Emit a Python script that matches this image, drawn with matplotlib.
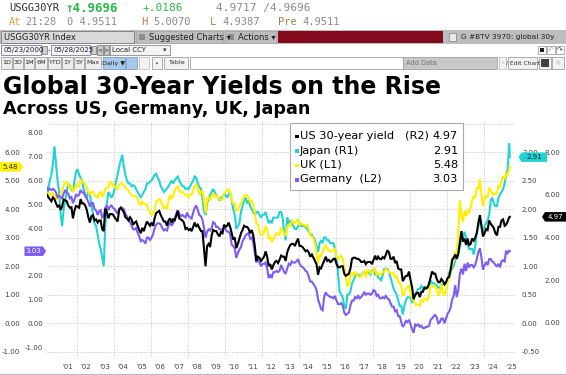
import matplotlib
matplotlib.use("Agg")
import matplotlib.pyplot as plt
from matplotlib.patches import Rectangle, Polygon
from matplotlib.lines import Line2D
from matplotlib.ticker import FixedLocator, FuncFormatter, NullFormatter
import pandas as pd
import numpy as np

# ---------------- DATA (monthly readings, May-2000 .. May-2025, plus last close) -------------
us_30y = [
    6.00, 5.90, 5.80, 5.70, 5.88, 5.80, 5.60, 5.45,
    5.50, 5.30, 5.45, 5.78, 5.75, 5.70, 5.50, 5.40, 5.42, 4.90, 5.28, 5.48,
    5.45, 5.40, 5.80, 5.60, 5.60, 5.50, 5.30, 4.95, 4.70, 5.00, 5.05, 4.80,
    4.85, 4.70, 4.80, 4.80, 4.40, 4.30, 5.35, 5.20, 4.90, 5.10, 5.10, 5.08,
    4.95, 4.85, 4.75, 5.30, 5.40, 5.30, 5.20, 4.95, 4.90, 4.80, 4.95, 4.85,
    4.60, 4.70, 4.75, 4.55, 4.35, 4.20, 4.45, 4.30, 4.55, 4.75, 4.65, 4.55,
    4.70, 4.55, 4.90, 5.15, 5.20, 5.25, 5.05, 4.90, 4.75, 4.75, 4.55, 4.80,
    4.90, 4.70, 4.85, 4.80, 5.00, 5.25, 4.90, 4.85, 4.80, 4.70, 4.40, 4.45,
    4.35, 4.40, 4.30, 4.50, 4.70, 4.50, 4.60, 4.45, 4.30, 4.30, 3.45, 2.65,
    3.60, 3.70, 3.55, 4.10, 4.35, 4.30, 4.30, 4.15, 4.05, 4.25, 4.20, 4.60,
    4.50, 4.55, 4.70, 4.50, 4.20, 3.90, 4.00, 3.50, 3.70, 3.95, 4.20, 4.35,
    4.55, 4.50, 4.50, 4.40, 4.20, 4.35, 4.10, 3.60, 2.90, 3.10, 3.05, 2.90,
    3.00, 3.10, 3.35, 3.10, 2.65, 2.75, 2.50, 2.70, 2.85, 2.90, 2.80, 2.95,
    3.15, 3.10, 3.10, 2.90, 3.30, 3.50, 3.65, 3.70, 3.70, 3.60, 3.80, 3.95,
    3.60, 3.60, 3.55, 3.45, 3.35, 3.40, 3.30, 3.10, 3.20, 3.05, 2.90, 2.75,
    2.25, 2.60, 2.55, 2.75, 2.90, 3.10, 2.90, 2.95, 2.85, 2.90, 3.00, 3.00,
    2.75, 2.60, 2.60, 2.65, 2.65, 2.30, 2.20, 2.25, 2.30, 2.55, 3.00, 3.05,
    3.05, 3.00, 3.00, 2.95, 2.85, 2.85, 2.90, 2.75, 2.85, 2.85, 2.85, 2.75,
    2.95, 3.15, 2.95, 3.10, 3.00, 2.98, 3.08, 3.02, 3.20, 3.40, 3.30, 3.00,
    3.00, 3.10, 2.80, 2.90, 2.55, 2.50, 2.50, 1.95, 2.10, 2.20, 2.20, 2.40,
    2.00, 1.65, 1.10, 1.30, 1.40, 1.40, 1.20, 1.45, 1.45, 1.65, 1.60, 1.65,
    1.85, 2.15, 2.40, 2.30, 2.30, 2.05, 1.90, 1.90, 2.05, 1.95, 1.80, 1.90,
    2.10, 2.15, 2.45, 2.95, 3.05, 3.20, 3.00, 3.25, 3.80, 4.30, 3.80, 3.95,
    3.65, 3.95, 3.65, 3.70, 3.95, 3.85, 4.00, 4.20, 4.70, 5.05, 4.55, 4.05,
    4.20, 4.40, 4.35, 4.80, 4.65, 4.55, 4.45, 4.20, 4.10, 4.50, 4.50, 4.80,
    4.85, 4.55, 4.60, 4.75, 4.95,
    4.97,
]

japan_30y = [
    2.25, 2.35, 2.50, 2.60, 2.80, 3.10, 2.80, 2.50,
    2.30, 1.90, 1.70, 2.00, 2.15, 2.30, 2.45, 2.40, 2.35, 2.30, 2.50, 2.65,
    2.70, 2.60, 2.55, 2.50, 2.35, 2.25, 2.20, 2.30, 2.25, 2.10, 1.90, 1.75,
    1.70, 1.55, 1.40, 1.30, 1.15, 1.00, 1.70, 2.10, 2.30, 2.25, 2.20, 2.25,
    2.35, 2.50, 2.60, 2.75, 2.85, 2.95, 2.75, 2.60, 2.50, 2.45, 2.45, 2.40,
    2.42, 2.40, 2.35, 2.30, 2.25, 2.20, 2.25, 2.30, 2.35, 2.45, 2.45, 2.48,
    2.50, 2.55, 2.60, 2.62, 2.55, 2.50, 2.40, 2.35, 2.30, 2.33, 2.36, 2.40,
    2.45, 2.50, 2.45, 2.50, 2.54, 2.57, 2.50, 2.45, 2.40, 2.40, 2.35, 2.36,
    2.35, 2.40, 2.45, 2.50, 2.57, 2.55, 2.45, 2.38, 2.36, 2.20, 1.95, 1.90,
    2.10, 2.20, 2.25, 2.30, 2.35, 2.30, 2.25, 2.20, 2.15, 2.20, 2.20, 2.25,
    2.25, 2.20, 2.25, 2.30, 2.15, 2.00, 1.90, 1.65, 1.70, 1.75, 1.95, 2.05,
    2.15, 2.20, 2.10, 2.15, 2.05, 2.00, 1.95, 1.90, 1.95, 1.95, 1.90, 1.85,
    1.90, 1.90, 1.95, 1.85, 1.75, 1.80, 1.75, 1.85, 1.85, 1.85, 1.85, 1.95,
    1.95, 1.85, 1.60, 1.45, 1.85, 1.75, 1.80, 1.75, 1.70, 1.65, 1.65, 1.70,
    1.75, 1.70, 1.70, 1.70, 1.68, 1.65, 1.60, 1.55, 1.55, 1.50, 1.45, 1.35,
    1.25, 1.40, 1.45, 1.40, 1.50, 1.50, 1.45, 1.45, 1.40, 1.40, 1.40, 1.30,
    1.15, 0.85, 0.55, 0.50, 0.45, 0.30, 0.25, 0.50, 0.50, 0.55, 0.70, 0.75,
    0.82, 0.85, 0.85, 0.82, 0.84, 0.88, 0.90, 0.86, 0.88, 0.88, 0.85, 0.90,
    0.95, 0.85, 0.85, 0.80, 0.78, 0.75, 0.85, 0.95, 0.95, 0.95, 0.90, 0.80,
    0.70, 0.60, 0.55, 0.50, 0.40, 0.30, 0.30, 0.15, 0.30, 0.40, 0.45, 0.45,
    0.45, 0.35, 0.50, 0.50, 0.55, 0.60, 0.60, 0.65, 0.60, 0.62, 0.63, 0.63,
    0.65, 0.75, 0.70, 0.70, 0.68, 0.66, 0.62, 0.62, 0.67, 0.68, 0.68, 0.70,
    0.75, 0.88, 0.95, 0.95, 1.00, 1.10, 1.15, 1.20, 1.35, 1.45, 1.50, 1.60,
    1.50, 1.40, 1.30, 1.30, 1.30, 1.20, 1.35, 1.60, 1.70, 1.80, 1.70, 1.55,
    1.70, 1.75, 1.80, 1.90, 2.15, 2.20, 2.10, 2.05, 2.05, 2.20, 2.25, 2.30,
    2.35, 2.45, 2.60, 2.70, 3.15,
    2.91,
]

uk_30y = [
    4.55, 4.50, 4.55, 4.50, 4.55, 4.50, 4.40, 4.35,
    4.40, 4.50, 4.65, 4.80, 4.95, 4.95, 4.85, 4.75, 4.80, 4.60, 4.70, 4.85,
    4.80, 4.80, 5.05, 4.95, 4.95, 4.85, 4.75, 4.60, 4.50, 4.60, 4.60, 4.50,
    4.45, 4.40, 4.55, 4.60, 4.45, 4.50, 4.70, 4.75, 4.75, 4.95, 4.95, 4.80,
    4.80, 4.75, 4.70, 4.85, 4.90, 4.90, 4.85, 4.75, 4.70, 4.65, 4.55, 4.50,
    4.45, 4.45, 4.45, 4.35, 4.20, 4.15, 4.25, 4.20, 4.15, 4.15, 4.00, 3.85,
    3.80, 3.85, 4.00, 4.25, 4.30, 4.35, 4.30, 4.15, 4.00, 4.10, 4.00, 4.30,
    4.50, 4.35, 4.45, 4.65, 4.75, 4.80, 4.65, 4.60, 4.60, 4.55, 4.50, 4.50,
    4.40, 4.50, 4.50, 4.65, 4.80, 4.85, 4.75, 4.50, 4.60, 4.65, 4.30, 3.85,
    4.35, 4.40, 4.30, 4.45, 4.55, 4.40, 4.50, 4.40, 4.35, 4.30, 4.35, 4.55,
    4.60, 4.65, 4.70, 4.60, 4.30, 4.20, 4.20, 3.95, 3.95, 4.10, 4.20, 4.30,
    4.45, 4.50, 4.50, 4.40, 4.25, 4.30, 4.10, 3.85, 3.50, 3.45, 3.20, 3.10,
    3.10, 3.20, 3.40, 3.30, 2.95, 3.05, 2.85, 2.95, 3.05, 3.15, 3.10, 3.10,
    3.35, 3.25, 3.15, 3.05, 3.35, 3.45, 3.40, 3.60, 3.55, 3.50, 3.55, 3.65,
    3.45, 3.50, 3.45, 3.45, 3.40, 3.45, 3.30, 3.05, 3.05, 2.95, 2.80, 2.45,
    2.10, 2.40, 2.35, 2.50, 2.60, 2.75, 2.60, 2.55, 2.50, 2.55, 2.55, 2.60,
    2.35, 2.25, 2.30, 2.35, 2.25, 1.95, 1.60, 1.30, 1.35, 1.75, 1.75, 1.65,
    1.80, 1.70, 1.65, 1.60, 1.65, 1.75, 1.80, 1.60, 1.85, 1.85, 1.75, 1.75,
    1.85, 1.90, 1.70, 1.75, 1.70, 1.70, 1.80, 1.80, 1.90, 1.85, 1.80, 1.75,
    1.75, 1.75, 1.60, 1.65, 1.45, 1.40, 1.30, 0.95, 1.05, 1.20, 1.25, 1.30,
    1.05, 0.85, 0.80, 0.65, 0.65, 0.65, 0.60, 0.80, 0.75, 0.85, 0.85, 0.80,
    0.95, 1.30, 1.30, 1.30, 1.30, 1.20, 0.95, 1.05, 1.35, 1.10, 0.95, 1.10,
    1.40, 1.60, 1.75, 2.05, 2.20, 2.50, 2.35, 3.20, 4.30, 3.75, 3.55, 3.95,
    3.75, 3.95, 3.85, 4.05, 4.30, 4.45, 4.40, 4.75, 4.70, 5.05, 4.50, 4.10,
    4.35, 4.45, 4.40, 4.75, 4.65, 4.55, 4.50, 4.55, 4.55, 4.85, 4.75, 5.00,
    5.15, 5.05, 5.25, 5.20, 5.40,
    5.48,
]

germany_30y = [
    5.70, 5.60, 5.65, 5.60, 5.65, 5.60, 5.50, 5.30,
    5.35, 5.30, 5.25, 5.45, 5.60, 5.50, 5.45, 5.25, 5.30, 5.05, 5.20, 5.40,
    5.35, 5.40, 5.60, 5.50, 5.50, 5.35, 5.25, 5.10, 4.90, 5.05, 5.05, 4.80,
    4.75, 4.55, 4.70, 4.75, 4.45, 4.50, 4.85, 4.95, 4.75, 4.90, 4.95, 4.85,
    4.80, 4.70, 4.60, 4.80, 4.85, 4.85, 4.80, 4.60, 4.50, 4.35, 4.25, 4.10,
    3.95, 3.95, 4.00, 3.80, 3.65, 3.45, 3.50, 3.45, 3.35, 3.60, 3.60, 3.50,
    3.60, 3.75, 4.00, 4.15, 4.20, 4.20, 4.15, 4.00, 3.90, 3.95, 3.90, 4.10,
    4.25, 4.10, 4.20, 4.40, 4.60, 4.75, 4.60, 4.50, 4.55, 4.50, 4.45, 4.65,
    4.50, 4.45, 4.40, 4.65, 4.85, 4.95, 4.75, 4.55, 4.50, 4.35, 4.00, 3.60,
    3.85, 3.95, 3.90, 4.00, 4.25, 4.20, 4.05, 4.05, 3.95, 3.95, 3.85, 4.00,
    3.95, 3.85, 3.85, 3.75, 3.30, 3.25, 3.15, 2.75, 2.95, 3.10, 3.20, 3.45,
    3.55, 3.70, 3.75, 3.80, 3.55, 3.60, 3.40, 2.95, 2.55, 2.75, 2.55, 2.40,
    2.50, 2.50, 2.55, 2.30, 1.90, 2.05, 1.90, 2.15, 2.15, 2.20, 2.15, 2.20,
    2.45, 2.30, 2.15, 2.10, 2.30, 2.50, 2.45, 2.60, 2.55, 2.55, 2.60, 2.70,
    2.50, 2.40, 2.35, 2.30, 2.20, 2.15, 1.95, 1.75, 1.75, 1.65, 1.55, 1.40,
    1.00, 0.80, 0.60, 0.55, 1.10, 1.30, 1.20, 1.15, 1.10, 1.10, 1.05, 1.15,
    0.95, 0.80, 0.80, 0.85, 0.75, 0.45, 0.35, 0.40, 0.45, 0.75, 0.95, 0.95,
    1.10, 1.05, 1.15, 1.05, 1.10, 1.20, 1.30, 1.20, 1.25, 1.25, 1.20, 1.25,
    1.40, 1.35, 1.15, 1.20, 1.05, 1.05, 1.10, 1.05, 1.15, 1.05, 1.00, 0.85,
    0.70, 0.70, 0.50, 0.55, 0.30, 0.30, 0.05, -0.15, -0.05, 0.10, 0.05, 0.15,
    -0.05, -0.25, -0.40, -0.05, -0.10, -0.05, -0.15, -0.10, -0.20, -0.20, -0.15, -0.15,
    -0.10, 0.15, 0.20, 0.30, 0.35, 0.25, 0.00, 0.05, 0.20, 0.20, 0.00, 0.20,
    0.40, 0.50, 0.65, 1.00, 1.15, 1.60, 1.10, 1.40, 2.10, 2.30, 2.05, 2.50,
    2.20, 2.55, 2.35, 2.45, 2.45, 2.35, 2.45, 2.70, 3.00, 3.15, 2.75, 2.25,
    2.45, 2.55, 2.45, 2.70, 2.70, 2.60, 2.55, 2.45, 2.40, 2.50, 2.35, 2.60,
    2.65, 2.60, 3.05, 2.95, 3.05,
    3.03,
]

year_labels = ["'%02d" % (y % 100) for y in range(2001, 2026)]
l1_ticks = [-1, 0, 1, 2, 3, 4, 5, 6]          # UK
l2_ticks = [-1, 0, 1, 2, 4, 5, 6, 7, 8]       # Germany (3.00 hidden behind last-value tag)
r1_ticks = [-0.5, 0, 0.5, 1, 1.5, 2, 2.5, 3]  # Japan
r2_ticks = [0, 2, 4, 6, 8]                    # US

dates = list(pd.date_range("2000-05-01", "2025-05-01", freq="MS") + pd.Timedelta(days=14))
dates[0] = pd.Timestamp("2000-05-23")
dates.append(pd.Timestamp("2025-05-28"))

# ---------------- figure ----------------
W, H = 566, 375
fig = plt.figure(figsize=(W / 100, H / 100), dpi=100)
fig.patch.set_facecolor("white")


def fx(x):
    return x / W


def fy(y):
    return 1 - y / H


def rect(x0, y0, x1, y1, fc, ec="none", lw=0.6, z=1):
    r = Rectangle((fx(x0), fy(y1)), (x1 - x0) / W, (y1 - y0) / H, transform=fig.transFigure,
                  facecolor=fc, edgecolor=ec, linewidth=lw, zorder=z)
    fig.add_artist(r)


def txt(x, y, s, size=6, color="#202020", ha="left", va="center", family="DejaVu Sans", weight="normal"):
    fig.text(fx(x), fy(y), s, fontsize=size, color=color, ha=ha, va=va, family=family,
             fontweight=weight, zorder=5)


MONO = "DejaVu Sans Mono"
GREEN = "#2AB84A"
ORANGE = "#D9A040"
GRAY = "#8A8A8A"

# Row 1
txt(9, 8, "USGG30YR", 7.5, "#303030", family=MONO)
txt(65, 8, "\u21914.9696", 9, GREEN, family=MONO, weight="bold")
txt(143, 8, "+.0186", 8, GREEN, family=MONO)
txt(216, 8, "4.9717 /4.9696", 8, GRAY, family=MONO)
# Row 2
txt(9, 22, "At", 7.5, ORANGE, family=MONO)
txt(25, 22, "21:28", 7.5, GRAY, family=MONO)
txt(67, 22, "0 4.9511", 7.5, GRAY, family=MONO)
txt(141, 22, "H", 7.5, "#B08040", family=MONO)
txt(153, 22, "5.0070", 7.5, GRAY, family=MONO)
txt(210, 22, "L", 7.5, "#B08040", family=MONO)
txt(222, 22, "4.9387", 7.5, GRAY, family=MONO)
txt(278, 22, "Pre", 7.5, "#B08040", family=MONO)
txt(302, 22, "4.9511", 7.5, GRAY, family=MONO)

# Row 3 (toolbar)
rect(0, 30, W, 43.5, "#BDBDBD")
rect(1, 31, 134, 42.5, "#D9D9D9", "#7A7A7A")
txt(4, 37, "USGG30YR Index", 6, "#202020")
rect(136, 31, 223, 42.5, "#BDBDBD", "#A8A8A8")
rect(139, 33.5, 145, 40, "#8C8C8C")
txt(149, 37, "Suggested Charts \u25be", 6, "#202020")
rect(225, 31, 276, 42.5, "#BDBDBD", "#A8A8A8")
rect(228, 33.5, 234, 40, "#8C8C8C")
txt(238, 37, "Actions \u25be", 6, "#202020")
rect(278, 31, 443, 42.5, "#860A1E")
rect(449, 33, 456, 40.5, "#E8E8E8", "#8C8C8C")
txt(461, 37, "G #BTV 3970: global 30y", 5.3, "#202020")

# Row 4
rect(1, 45, 41, 55, "#F4F4F8", "#7C7C9C")
txt(3, 50, "05/23/2000", 5, "#202020")
rect(42, 46.5, 46.5, 53.5, "#D0D0D0", "#808080")
txt(48, 50, "-", 5, "#202020")
rect(51, 45, 90, 55, "#F4F4F8", "#7C7C9C")
txt(53, 50, "05/28/2025", 5, "#202020")
rect(91, 46.5, 95.5, 53.5, "#D0D0D0", "#808080")
rect(97, 45.5, 102.5, 54.5, "#C8C8C8", "#808080")
txt(99.7, 50, "<", 4.5, "#303030", ha="center")
rect(103.5, 45.5, 109, 54.5, "#C8C8C8", "#808080")
txt(106.2, 50, ">", 4.5, "#303030", ha="center")
rect(110, 45, 170, 55, "#F4F4F4", "#8C8C8C")
txt(112, 50, "Local CCY", 5, "#202020")
txt(165, 50, "\u25be", 5, "#404040", ha="center")
rect(538, 46, 546, 54, "#FFFFFF", "#A0A0A0")
rect(540, 48, 544, 52, "#202020")
rect(547, 46, 555, 54, "#FFFFFF", "#A0A0A0")
txt(551, 50, "\u21b6", 5, "#B0B0B0", ha="center")
rect(556, 46, 564, 54, "#FFFFFF", "#A0A0A0")
txt(560, 50, "\u21b7", 5, "#404040", ha="center")

# Row 5 (buttons)
buttons = [(1, 12, "1D"), (13, 23, "3D"), (24, 34, "1M"), (35, 47, "6M"), (48, 61, "YTD"),
           (62, 73, "1Y"), (74, 84, "5Y"), (85, 101, "Max")]
for x0, x1, lab in buttons:
    rect(x0, 57, x1, 69, "#EDEDED", "#A0A0A0")
    txt((x0 + x1) / 2, 63, lab, 4.6, "#303030", ha="center")
rect(103, 57, 125, 69, "#A8C8EC", "#7A9CC8")
txt(114, 63, "Daily \u25bc", 4.6, "#202020", ha="center")
rect(126, 57, 137, 69, "#A8C8EC", "#7A9CC8")
rect(139, 57, 149, 69, "#F2F2F2", "#C0C0C0")
rect(152, 57, 162, 69, "#F2F2F2", "#A0A0A0")
txt(157, 63, "\u2022", 4.6, "#303030", ha="center")
rect(164, 57, 188, 69, "#F2F2F2", "#A0A0A0")
txt(176, 63, "Table", 4.6, "#303030", ha="center")
rect(190, 57, 403, 69, "#FFFFFF", "#A0A0A0")
rect(403, 57, 497, 69, "#C8C8C8", "#A0A0A0")
txt(406, 63, "Add Data", 4.8, "#707070")
rect(499, 57, 506, 69, "#F2F2F2", "#C0C0C0")
txt(502.5, 63, "\u00ab", 4.6, "#B0B0B0", ha="center")
rect(508, 57, 537, 69, "#F2F2F2", "#A0A0A0")
txt(522.5, 63, "/ Edit Chart", 4.3, "#303030", ha="center")
rect(539, 57, 551, 69, "#F2F2F2", "#A0A0A0")
rect(541, 59, 549, 67, "#404040")
rect(552, 57, 564, 69, "#F2F2F2", "#A0A0A0")
txt(558, 63, "\u263c", 5, "#B0B0B0", ha="center")

# Titles
txt(3, 94, "Global 30-Year Yields on the Rise", 17, "#000000", va="baseline", weight="bold")
txt(3, 114.5, "Across US, Germany, UK, Japan", 12.6, "#000000", va="baseline", weight="bold")

# ---------------- chart axes ----------------
AX_L, AX_R, AX_T, AX_B = 47, 515, 121, 358
ax = fig.add_axes([fx(AX_L), fy(AX_B), (AX_R - AX_L) / W, (AX_B - AX_T) / H])
for s in ax.spines.values():
    s.set_visible(False)

xmin, xmax = pd.Timestamp("2000-05-21"), pd.Timestamp("2025-09-07")
ax.set_xlim(xmin, xmax)
L1_LIM = (-1.228, 7.09)
ax.set_ylim(*L1_LIM)
ax.set_yticks(range(-1, 8))
ax.tick_params(axis="y", length=0, labelleft=False)

grid_years = [pd.Timestamp("%d-01-01" % y) for y in range(2002, 2025, 2)]
label_pos = [pd.Timestamp("%d-07-01" % y) for y in range(2001, 2026)]
ax.xaxis.set_major_locator(FixedLocator(matplotlib.dates.date2num(grid_years)))
ax.xaxis.set_major_formatter(NullFormatter())
ax.xaxis.set_minor_locator(FixedLocator(matplotlib.dates.date2num(label_pos)))
ax.xaxis.set_minor_formatter(FuncFormatter(lambda v, p: year_labels[p] if p is not None and p < len(year_labels) else ""))
ax.tick_params(axis="x", which="both", length=0, pad=4, labelsize=5, labelcolor="#404040")
ax.grid(True, which="major", color="#C4C4C4", linestyle=(0, (1, 1.6)), linewidth=0.7)

fmt2 = FuncFormatter(lambda v, p: "%.2f" % v)


def twin(lim, ticks, side, pad):
    t = ax.twinx()
    for s in t.spines.values():
        s.set_visible(False)
    t.set_ylim(*lim)
    t.set_yticks(ticks)
    t.yaxis.set_major_formatter(fmt2)
    if side == "left":
        t.yaxis.tick_left()
    else:
        t.yaxis.tick_right()
    t.tick_params(axis="y", length=0, pad=pad, labelsize=5, labelcolor="#404040")
    return t


ax_r1 = twin((L1_LIM[0] / 2, L1_LIM[1] / 2), r1_ticks, "right", 5)          # Japan
ax_l1 = twin(L1_LIM, l1_ticks, "left", 19.2)                                 # UK
ax_l2 = twin(((AX_B - 323.3) / -23.8, (323.3 - AX_T) / 23.8), l2_ticks, "left", 2.6)   # Germany
ax_r2 = twin(((AX_B - 322.7) / -21.3, (322.7 - AX_T) / 21.3), r2_ticks, "right", 21.5)  # US

C_US, C_JP, C_UK, C_DE = "#000000", "#22D3D3", "#FFF000", "#7D5CF2"
LW = 1.5
ax_r1.plot(dates, japan_30y, color=C_JP, lw=LW, solid_joinstyle="miter")
ax_l1.plot(dates, uk_30y, color=C_UK, lw=LW, solid_joinstyle="miter")
ax_l2.plot(dates, germany_30y, color=C_DE, lw=LW, solid_joinstyle="miter")
ax_r2.plot(dates, us_30y, color=C_US, lw=LW, solid_joinstyle="miter")


# ---------------- last-value tags ----------------
def ypix(axis, v):
    d = axis.transData.transform((matplotlib.dates.date2num(xmin), v))
    return H - d[1]


def tag(xl, xr, yc, fc, s, tc, point, h=9.5, tip=3):
    if point == "right":
        pts = [(xl, yc - h / 2), (xr - tip, yc - h / 2), (xr, yc), (xr - tip, yc + h / 2), (xl, yc + h / 2)]
        cx = (xl + xr - tip) / 2
    else:
        pts = [(xr, yc - h / 2), (xl + tip, yc - h / 2), (xl, yc), (xl + tip, yc + h / 2), (xr, yc + h / 2)]
        cx = (xl + tip + xr) / 2
    poly = Polygon([(fx(a), fy(b)) for a, b in pts], closed=True, transform=fig.transFigure,
                   facecolor=fc, edgecolor="none", zorder=6)
    fig.add_artist(poly)
    fig.text(fx(cx), fy(yc), s, fontsize=5, color=tc, ha="center", va="center", zorder=7)


tag(0, 23, ypix(ax_l1, uk_30y[-1]), C_UK, "%.2f" % uk_30y[-1], "#303030", "right")
tag(24.5, 46, ypix(ax_l2, germany_30y[-1]), C_DE, "%.2f" % germany_30y[-1], "#FFFFFF", "right")
tag(518.5, 547, ypix(ax_r1, japan_30y[-1]), C_JP, "%.2f" % japan_30y[-1], "#202020", "left")
tag(542, 566, ypix(ax_r2, us_30y[-1]), C_US, "%.2f" % us_30y[-1], "#FFFFFF", "left")

# ---------------- legend box ----------------
rect(290, 123, 463, 190, "#FFFFFF", "#A8A8A8", lw=0.8, z=8)
leg_rows = [
    ("US 30-year yield", "(R2)", us_30y[-1], C_US, 136),
    ("Japan (R1)", "", japan_30y[-1], C_JP, 150.5),
    ("UK (L1)", "", uk_30y[-1], C_UK, 165),
    ("Germany  (L2)", "", germany_30y[-1], C_DE, 179.5),
]
for name, axis_lab, val, col, yy in leg_rows:
    rect(295, yy - 1.5, 298.5, yy + 2, col, z=9)
    fig.text(fx(300), fy(yy), name, fontsize=8.2, color="#000000", ha="left", va="center", zorder=9)
    if axis_lab:
        fig.text(fx(405), fy(yy), axis_lab, fontsize=8.2, color="#000000", ha="left", va="center", zorder=9)
    fig.text(fx(458), fy(yy), "%.2f" % val, fontsize=8.2, color="#000000", ha="right", va="center", zorder=9)

# bottom border line
fig.add_artist(Line2D([0, 1], [fy(373.5), fy(373.5)], transform=fig.transFigure, color="#B8B8B8", lw=0.8))

fig.savefig("out.png", dpi=100)
